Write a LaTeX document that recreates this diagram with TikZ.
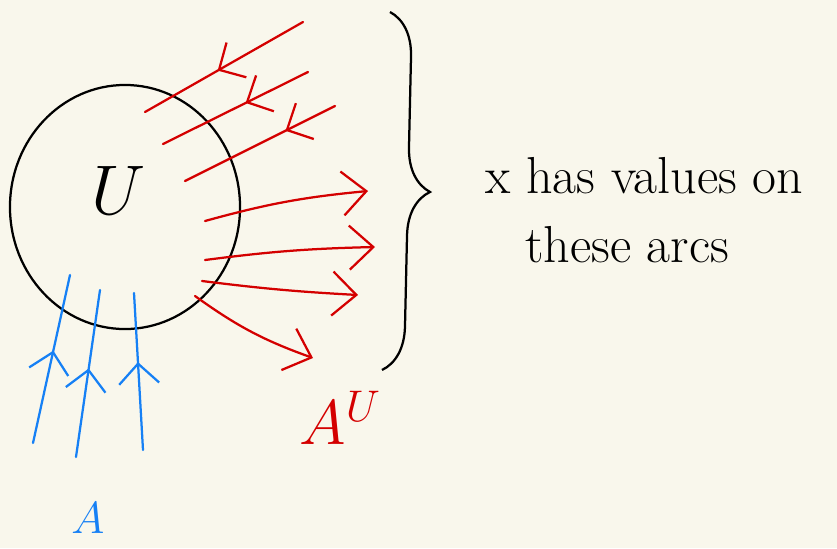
\documentclass[tikz,border=0pt]{standalone}
\usepackage{fix-cm}
\usetikzlibrary{arrows.meta,decorations.markings,decorations.pathreplacing,shapes.geometric}
\definecolor{paper}{RGB}{249,247,236}
\definecolor{inkred}{RGB}{212,0,0}
\definecolor{inkblue}{RGB}{22,128,245}
\tikzset{
  headtip/.tip={Straight Barb[length=5mm, width=10mm, line width=1.6pt]},
  bighead/.tip={Straight Barb[length=6mm, width=11mm, line width=1.6pt]}
}
\begin{document}
\begin{tikzpicture}[
  x=0.025cm, y=-0.025cm,
  setshape/.style={ellipse, draw=black, line width=1.6pt, minimum width=5.75cm, minimum height=6.1cm, inner sep=0pt},
  redline/.style={draw=inkred, line width=1.6pt, line cap=round},
  blueline/.style={draw=inkblue, line width=1.6pt, line cap=round},
  midhead/.style={postaction={decorate}, decoration={markings, mark=at position #1 with {\arrow{headtip}}}}
]
  \fill[paper] (0,0) rectangle (837,548);
  \useasboundingbox (0,0) rectangle (837,548);

  % Menge U
  \node[setshape] (Uset) at (125,207) {};
  \node[font=\fontsize{50}{60}\selectfont] (Ulabel) at (119,190) {$U$};

  % Eingehende Boegen (rot)
  \foreach \x/\y/\u/\v/\p [count=\i] in {303/22/145/112/0.54, 308/72/163/144/0.43, 335/106/185/181/0.33} {
    \coordinate (ins\i) at (\x,\y);
    \coordinate (ine\i) at (\u,\v);
    \draw[redline, midhead=\p] (ins\i) -- (ine\i);
  }

  % Ausgehende Boegen (rot)
  \foreach \x/\y/\u/\v/\b [count=\i] in {205/221/368/191/5, 205/260/375/247/3, 202/281/358/295/-2, 195/296/313/358/-8} {
    \coordinate (outs\i) at (\x,\y);
    \coordinate (oute\i) at (\u,\v);
    \draw[redline, -{bighead}] (outs\i) to[bend left=\b] (oute\i);
  }

  % Boegen von unten (blau)
  \foreach \x/\y/\u/\v/\p [count=\i] in {33/443/70/275/0.55, 76/457/100/290/0.53, 143/450/134/293/0.56} {
    \coordinate (bs\i) at (\x,\y);
    \coordinate (be\i) at (\u,\v);
    \draw[blueline, midhead=\p] (bs\i) -- (be\i);
  }

  % Klammer
  \coordinate (bracetop) at (390,12);
  \coordinate (bracebot) at (382,370);
  \draw[line width=1.6pt, decorate, decoration={brace, amplitude=1.1cm}] (bracetop) -- (bracebot);

  % Beschriftungen
  \node[anchor=base west, inner sep=0pt, font=\fontsize{37}{44}\selectfont] (note1) at (485,193) {x has values on};
  \node[anchor=base west, inner sep=0pt, font=\fontsize{37}{44}\selectfont] (note2) at (525,262) {these arcs};
  \node[text=inkred, font=\fontsize{45}{54}\selectfont] (AUlabel) at (340,418) {$A^U$};
  \node[text=inkblue, font=\fontsize{32}{40}\selectfont] (Alabel) at (88,518) {$A$};
\end{tikzpicture}
\end{document}
